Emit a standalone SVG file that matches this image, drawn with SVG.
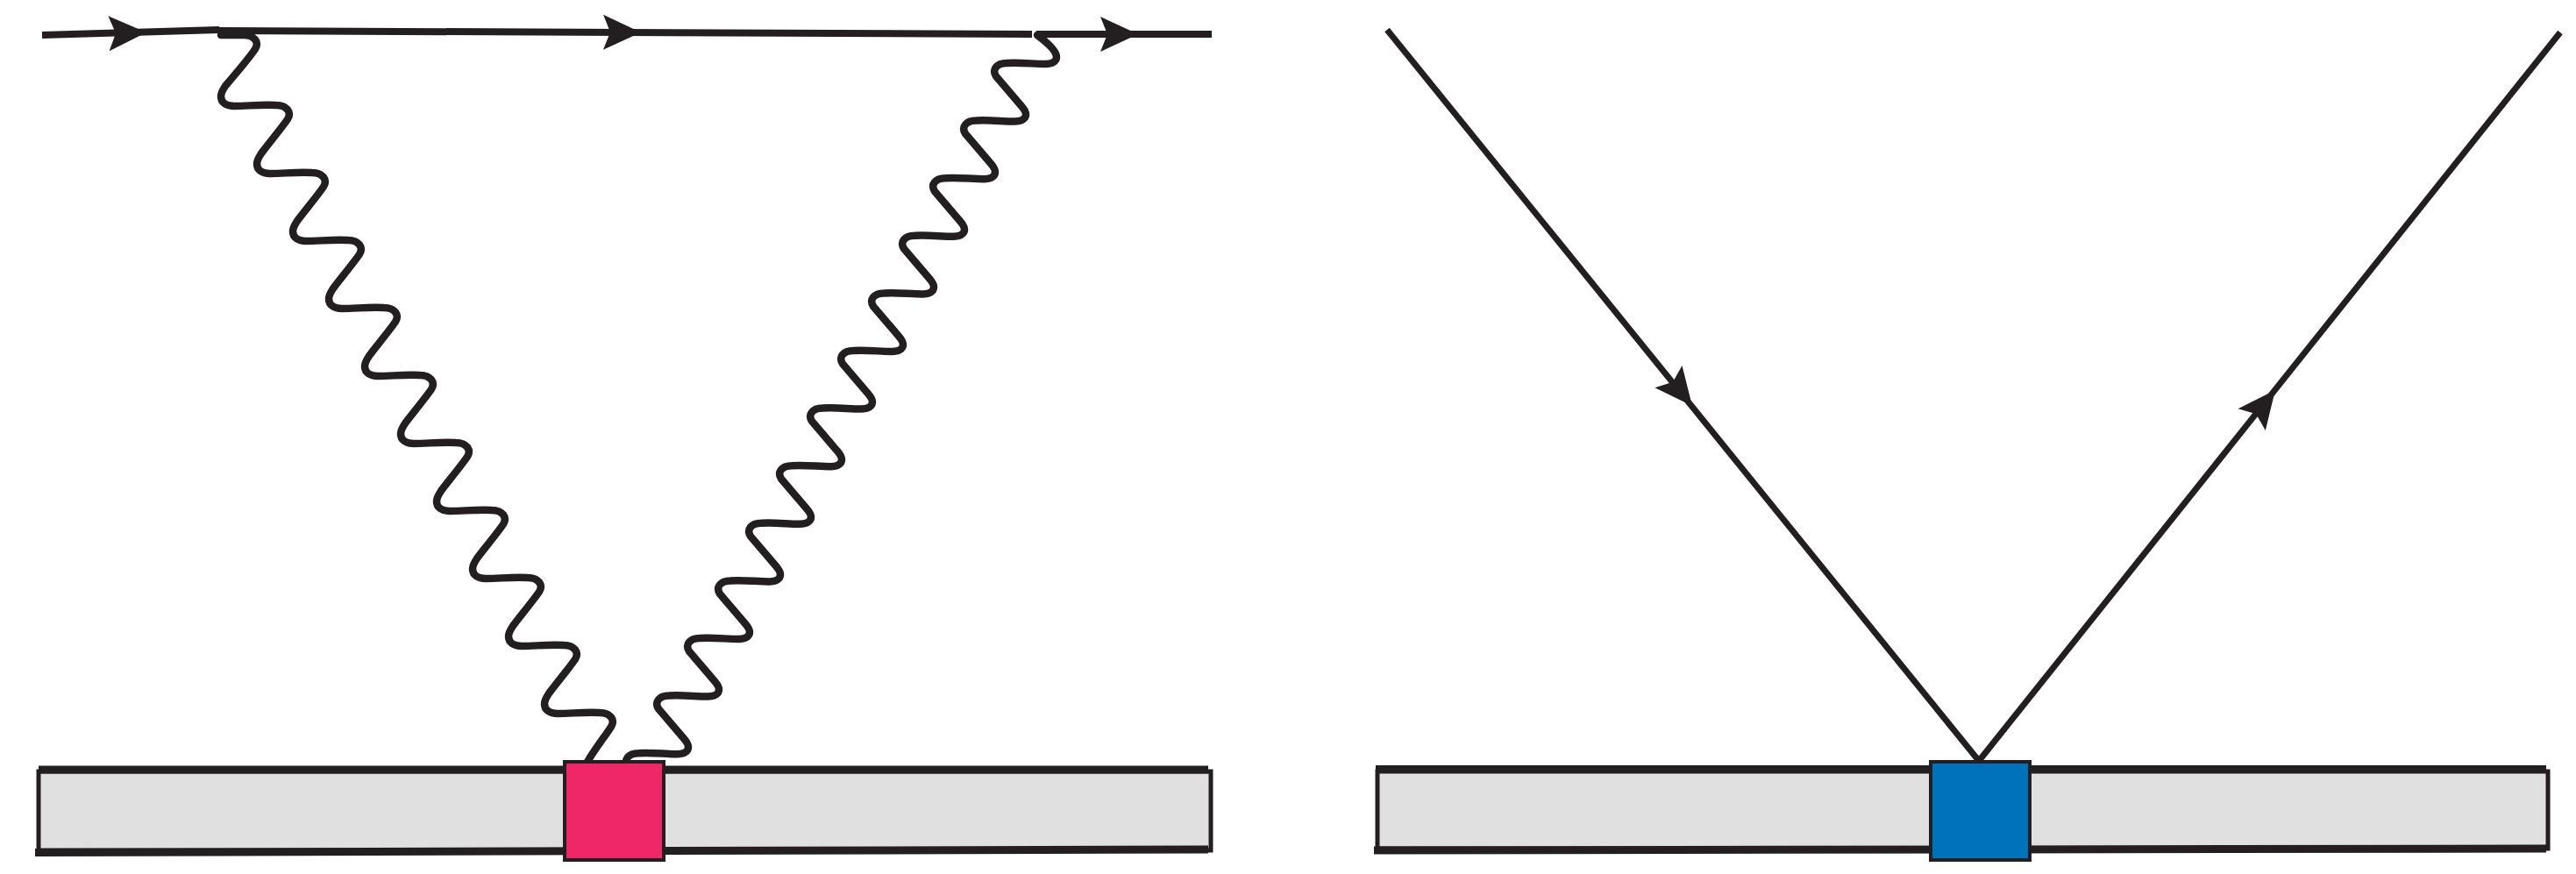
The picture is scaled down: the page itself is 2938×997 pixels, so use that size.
<svg xmlns="http://www.w3.org/2000/svg" xmlns:xlink="http://www.w3.org/1999/xlink" width="2938" height="997" viewBox="0 0 2938 997">
<style>
.ln{stroke:#231f20;stroke-width:8;fill:none}
.lg{stroke:#231f20;stroke-width:7;fill:none}
.wv{stroke:#231f20;stroke-width:8.5;fill:none;stroke-linecap:round;stroke-linejoin:round}
.bar{fill:#e0e0e0;stroke:#231f20;stroke-width:5}
.edge{stroke:#231f20;stroke-width:9;fill:none}
.ah{fill:#231f20}
</style>
<defs>
<path id="arr" d="M0,0 L-43,-20 L-35,0 L-43,20 Z"/>
</defs>
<rect width="2938" height="997" fill="#ffffff"/>
<g id="substrate-left">
<rect class="bar" x="44" y="880" width="1337" height="90"/>
<path class="edge" d="M44,878 L1378,878"/>
<path class="edge" d="M40,972.5 L1378,969"/>
</g>
<g id="substrate-right">
<rect class="bar" x="1571" y="880" width="1335" height="88"/>
<path class="edge" d="M1569,877.5 L2904,877.5"/>
<path class="edge" d="M1567,970 L2904,968"/>
</g>
<g id="connectors">
<path class="ln" d="M48,40 L250,34"/>
<path class="ln" d="M248,35 L1177,39"/>
<path class="ln" d="M1182,39 L1382,39"/>
<use xlink:href="#arr" class="ah" transform="translate(167,37) rotate(-1.7)"/>
<use xlink:href="#arr" class="ah" transform="translate(731,37) rotate(0.25)"/>
<use xlink:href="#arr" class="ah" transform="translate(1298,39)"/>
<path class="wv" d="M252,40 c10,0 18,0 26,0 c12,0 18,8 13,16 c-6,9 -28,35 -34,42 c-3,4.5 -5,8 -5,12
c0,7 6,11 15,11 c16,0 30,-2 48,-1 c12,0 18,8 13,16 c-6,9 -25,32 -30,39 c-3,4.5 -5,8 -5,12
c0,7 6,11 15,11 c16,0 30,-2 48,-1 c12,0 18,8 13,16 c-6,9 -25,32 -30,39 c-3,4.5 -5,8 -5,12
c0,7 6,11 15,11 c16,0 30,-2 48,-1 c12,0 18,8 13,16 c-6,9 -25,32 -30,39 c-3,4.5 -5,8 -5,12
c0,7 6,11 15,11 c16,0 30,-2 48,-1 c12,0 18,8 13,16 c-6,9 -25,32 -30,39 c-3,4.5 -5,8 -5,12
c0,7 6,11 15,11 c16,0 30,-2 48,-1 c12,0 18,8 13,16 c-6,9 -25,32 -30,39 c-3,4.5 -5,8 -5,12
c0,7 6,11 15,11 c16,0 30,-2 48,-1 c12,0 18,8 13,16 c-6,9 -25,32 -30,39 c-3,4.5 -5,8 -5,12
c0,7 6,11 15,11 c16,0 30,-2 48,-1 c12,0 18,8 13,16 c-6,9 -25,32 -30,39 c-3,4.5 -5,8 -5,12
c0,7 6,11 15,11 c16,0 30,-2 48,-1 c12,0 18,8 13,16 c-6,9 -25,32 -30,39 c-3,4.5 -5,8 -5,12
c0,7 6,11 15,11 c16,0 30,-2 48,-1 c12,0 18,8 13,16 c-6,9 -25,32 -30,39 c-3,4.5 -5,8 -5,12
c0,7 6,11 15,11 c16,0 30,-2 48,-1 c12,0 18,8 13,16 c-6,10 -24,32 -30,46"/>
<path class="wv" d="M1183,40 c8,6 22,17 22,25
c0,5 -5,8 -13,8 c-14,0 -28,-2 -44,-1 c-11,0 -17,7 -12,15 c6,7 23,27 29,34 c3,3.5 5,6.5 5,9.6
c0,5 -5,8 -13,8 c-14,0 -28,-2 -44,-1 c-11,0 -17,7 -12,15 c6,7 23,27 29,34 c3,3.5 5,6.5 5,9.6
c0,5 -5,8 -13,8 c-14,0 -28,-2 -44,-1 c-11,0 -17,7 -12,15 c6,7 23,27 29,34 c3,3.5 5,6.5 5,9.6
c0,5 -5,8 -13,8 c-14,0 -28,-2 -44,-1 c-11,0 -17,7 -12,15 c6,7 23,27 29,34 c3,3.5 5,6.5 5,9.6
c0,5 -5,8 -13,8 c-14,0 -28,-2 -44,-1 c-11,0 -17,7 -12,15 c6,7 23,27 29,34 c3,3.5 5,6.5 5,9.6
c0,5 -5,8 -13,8 c-14,0 -28,-2 -44,-1 c-11,0 -17,7 -12,15 c6,7 23,27 29,34 c3,3.5 5,6.5 5,9.6
c0,5 -5,8 -13,8 c-14,0 -28,-2 -44,-1 c-11,0 -17,7 -12,15 c6,7 23,27 29,34 c3,3.5 5,6.5 5,9.6
c0,5 -5,8 -13,8 c-14,0 -28,-2 -44,-1 c-11,0 -17,7 -12,15 c6,7 23,27 29,34 c3,3.5 5,6.5 5,9.6
c0,5 -5,8 -13,8 c-14,0 -28,-2 -44,-1 c-11,0 -17,7 -12,15 c6,7 23,27 29,34 c3,3.5 5,6.5 5,9.6
c0,5 -5,8 -13,8 c-14,0 -28,-2 -44,-1 c-11,0 -17,7 -12,15 c6,7 23,27 29,34 c3,3.5 5,6.5 5,9.6
c0,5 -5,8 -13,8 c-14,0 -28,-2 -44,-1 c-11,0 -17,7 -12,15 c6,7 23,27 29,34 c3,3.5 5,6.5 5,9.6
c0,5 -5,8 -13,8 c-14,0 -28,-2 -44,-1 c-11,0 -17,7 -12,15 c6,7 23,27 29,34 c3,3.5 5,6.5 5,9.6
c0,5 -5,8 -13,8 c-14,0 -28,-2 -44,-1 c-11,0 -17,7 -12,15 c2,3 3,6 3,12"/>
<path class="lg" d="M1582,34 L2257,868"/>
<path class="lg" d="M2257,868 L2920,37"/>
<use xlink:href="#arr" class="ah" transform="translate(1930,463) rotate(51)"/>
<use xlink:href="#arr" class="ah" transform="translate(2595,445) rotate(-51.4)"/>
</g>
<g id="vertex-pink">
<rect x="644" y="869" width="113" height="112" fill="#ef2768" stroke="#231f20" stroke-width="4"/>
</g>
<g id="vertex-blue">
<rect x="2202" y="869" width="113" height="112" fill="#0071bb" stroke="#231f20" stroke-width="4"/>
</g>
</svg>
